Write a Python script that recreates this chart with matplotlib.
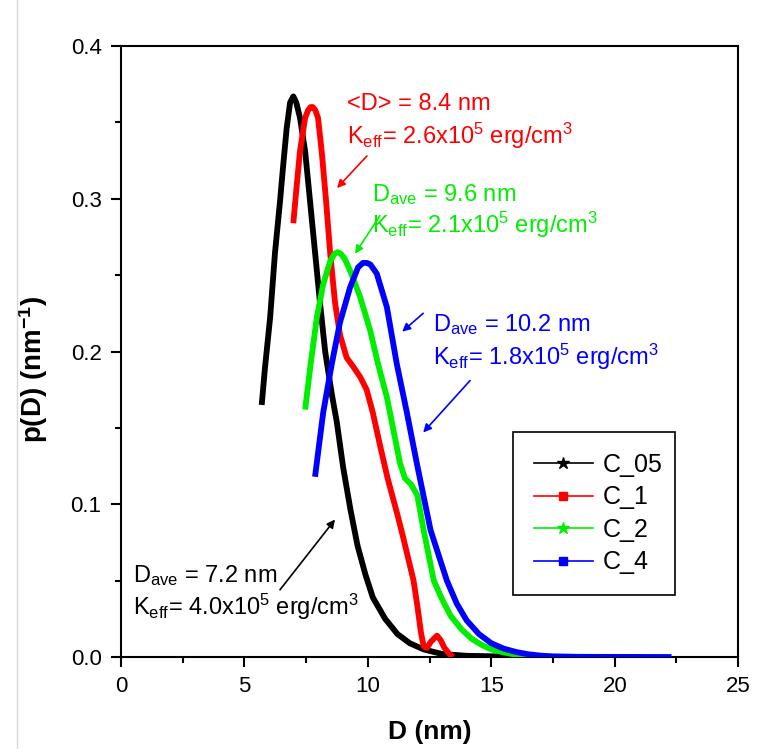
import matplotlib
matplotlib.use("Agg")
import matplotlib.pyplot as plt
from matplotlib.lines import Line2D

plt.rcParams['font.family'] = ['Liberation Sans', 'DejaVu Sans']
plt.rcParams['mathtext.fontset'] = 'custom'
plt.rcParams['mathtext.rm'] = 'Liberation Sans'
plt.rcParams['mathtext.it'] = 'Liberation Sans:italic'
plt.rcParams['mathtext.bf'] = 'Liberation Sans:bold'

# ---- data ----
c05_x = [5.70, 5.83, 6.04, 6.24, 6.44, 6.56, 6.71, 6.85, 6.98, 7.1, 7.25, 7.46, 7.66, 7.86, 8.06, 8.27,
         8.54, 8.74, 9.0, 9.3, 9.58, 9.9, 10.2, 10.7, 11.2, 11.7, 12.26, 13.0, 14.0, 16.5]
c05_y = [0.165, 0.189, 0.222, 0.265, 0.298, 0.320, 0.346, 0.363, 0.367, 0.363, 0.353, 0.331, 0.298, 0.265,
         0.232, 0.200, 0.172, 0.154, 0.124, 0.096, 0.073, 0.054, 0.039, 0.025, 0.015, 0.009, 0.005, 0.002,
         0.0008, 0.0]

c1_x = [6.98, 7.12, 7.25, 7.46, 7.58, 7.68, 7.77, 7.87, 7.98, 8.13, 8.31, 8.47, 8.67, 8.87, 9.14, 9.41,
        9.7, 9.95, 10.2, 10.5, 10.8, 11.2, 11.45, 11.85, 12.0, 12.15, 12.26, 12.4, 12.55, 12.8, 12.95, 13.1,
        13.3, 13.45]
c1_y = [0.284, 0.309, 0.331, 0.353, 0.358, 0.360, 0.360, 0.358, 0.353, 0.331, 0.298, 0.265, 0.232, 0.211,
        0.196, 0.190, 0.183, 0.175, 0.160, 0.138, 0.117, 0.093, 0.077, 0.050, 0.034, 0.016, 0.007, 0.006,
        0.010, 0.014, 0.011, 0.006, 0.002, 0.0]

c2_x = [7.46, 7.66, 7.93, 8.19, 8.47, 8.65, 8.77, 8.9, 9.05, 9.28, 9.68, 10.09, 10.41, 10.77, 11.03, 11.3,
        11.5, 11.75, 12.0, 12.26, 12.67, 13.0, 13.35, 13.8, 14.2, 14.6, 15.0, 15.5, 16.0, 16.6, 17.5, 21.2]
c2_y = [0.162, 0.189, 0.222, 0.244, 0.259, 0.264, 0.265, 0.264, 0.261, 0.253, 0.236, 0.214, 0.192, 0.170,
        0.149, 0.127, 0.117, 0.113, 0.106, 0.083, 0.050, 0.038, 0.027, 0.018, 0.012, 0.008, 0.005, 0.003,
        0.0015, 0.0006, 0.0002, 0.0]

c4_x = [7.86, 8.19, 8.54, 8.87, 9.28, 9.6, 9.8, 9.95, 10.1, 10.36, 10.77, 11.17, 11.58, 11.98, 12.54,
        13.2, 13.6, 14.0, 14.5, 15.0, 15.5, 16.0, 16.5, 17.0, 17.5, 18.5, 22.3]
c4_y = [0.118, 0.160, 0.192, 0.219, 0.242, 0.255, 0.258, 0.258, 0.257, 0.251, 0.229, 0.192, 0.160, 0.127,
        0.083, 0.050, 0.035, 0.024, 0.015, 0.009, 0.0055, 0.0033, 0.0018, 0.0009, 0.0004, 0.0001, 0.0]

labels = ['C_05', 'C_1', 'C_2', 'C_4']
colors = ['black', '#ff0000', '#00ee00', '#0000ff']
markers = ['*', 's', '*', 's']

fig = plt.figure(figsize=(7.73, 7.49), dpi=100)
fig.add_artist(Line2D([17 / 773, 17 / 773], [0, 1], color='#d8d8d8', lw=1.0))
ax = fig.add_axes([0.1565, 0.1228, 0.7985, 0.8158])

series = [(c05_x, c05_y), (c1_x, c1_y), (c2_x, c2_y), (c4_x, c4_y)]
for (xs, ys), c in zip(series, colors):
    ax.plot(xs, ys, color=c, lw=4.2, solid_joinstyle='round', solid_capstyle='butt', zorder=3)

ax.set_xlim(0, 25)
ax.set_ylim(0, 0.4)
ax.set_xticks([0, 5, 10, 15, 20, 25])
ax.set_xticks([2.5, 7.5, 12.5, 17.5, 22.5], minor=True)
ax.set_yticks([0.0, 0.1, 0.2, 0.3, 0.4])
ax.set_yticks([0.05, 0.15, 0.25, 0.35], minor=True)
ax.set_yticklabels(['0.0', '0.1', '0.2', '0.3', '0.4'])
ax.tick_params(which='both', direction='out', width=1.5, labelsize=16, top=False, right=False, pad=7)
ax.tick_params(which='major', length=7)
ax.tick_params(which='minor', length=4)
for s in ax.spines.values():
    s.set_linewidth(1.5)

ax.set_xlabel('D (nm)', fontsize=19, fontweight='bold', labelpad=16)
ax.set_ylabel(r'p(D) (nm$^{\mathbf{-1}}$)', fontsize=20, fontweight='bold', labelpad=12)
ax.yaxis.set_label_coords(-0.115, 0.47)

fs = 17
def two_lines(x, y1, y2, l1, l2, col):
    ax.text(x, y1, l1, color=col, fontsize=fs, va='baseline', ha='left')
    ax.text(x, y2, l2, color=col, fontsize=fs, va='baseline', ha='left')

two_lines(9.16, 0.358, 0.336, '<D> = 8.4 nm', r'K$_{\rm eff}$= 2.6x10$^{5}$ erg/cm$^{3}$', '#ff0000')
two_lines(10.17, 0.2985, 0.2776, r'D$_{\rm ave}$ = 9.6 nm', r'K$_{\rm eff}$= 2.1x10$^{5}$ erg/cm$^{3}$', '#00ee00')
two_lines(12.64, 0.2134, 0.191, r'D$_{\rm ave}$ = 10.2 nm', r'K$_{\rm eff}$= 1.8x10$^{5}$ erg/cm$^{3}$', '#0000ff')
two_lines(0.49, 0.049, 0.0275, r'D$_{\rm ave}$ = 7.2 nm', r'K$_{\rm eff}$= 4.0x10$^{5}$ erg/cm$^{3}$', 'black')

def arrow(tail, head, col):
    ax.annotate('', xy=head, xytext=tail,
                arrowprops=dict(arrowstyle='-|>', color=col, lw=1.2, mutation_scale=12, shrinkA=0, shrinkB=0))

arrow((9.96, 0.328), (8.75, 0.307), '#ff0000')
arrow((10.49, 0.289), (9.48, 0.264), '#00ee00')
arrow((12.24, 0.225), (11.39, 0.213), '#0000ff')
arrow((14.14, 0.181), (12.24, 0.147), '#0000ff')
arrow((6.44, 0.044), (8.67, 0.090), 'black')

handles = [Line2D([0], [0], color=c, lw=1.2, alpha=1, marker=m, markersize=9 if m == '*' else 6,
                  markerfacecolor=c, markeredgecolor=c) for c, m in zip(colors, markers)]
leg = ax.legend(handles, labels, loc='upper left', bbox_to_anchor=(0.635, 0.101, 0.263, 0.267),
                mode='expand', borderaxespad=0, fontsize=18, frameon=True, fancybox=False,
                edgecolor='black', framealpha=1, handlelength=2.36, borderpad=0.83,
                labelspacing=0.34, handletextpad=0.4)
leg.get_frame().set_linewidth(1.2)

fig.savefig('out.png', dpi=100)
